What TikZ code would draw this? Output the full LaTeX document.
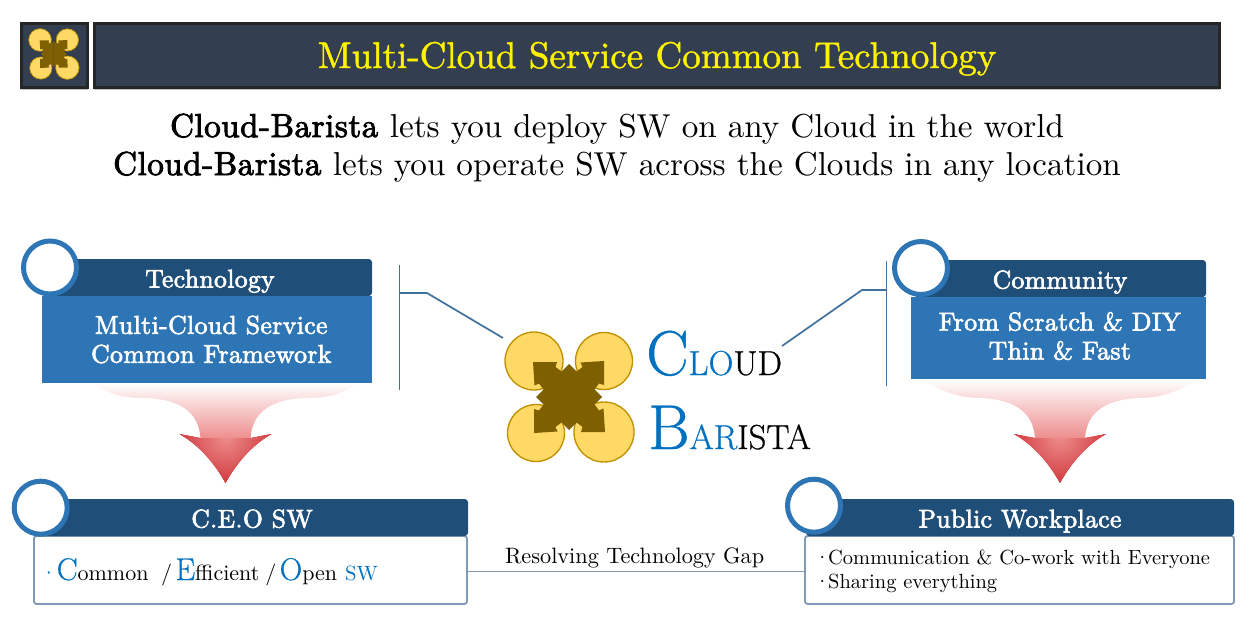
\documentclass[tikz,border=0pt]{standalone}
\usepackage{xcolor}
\usepackage{fontspec}
\usepackage{tikz}
\usetikzlibrary{positioning, shadows}

\setmainfont{lmroman10-regular}[Extension=.otf, BoldFont=lmroman10-regular, BoldFeatures={FakeBold=2.6, LetterSpace=1.5}]
\newfontfamily\titlefont{lmroman10-regular}[Extension=.otf, FakeBold=1.2]
\newfontfamily\namefont{lmroman17-regular}[Extension=.otf, FakeBold=0.7]

\definecolor{titlefill}{HTML}{333F50}
\definecolor{titleline}{HTML}{262626}
\definecolor{headblue}{HTML}{1F4E79}
\definecolor{bodyblue}{HTML}{2E75B6}
\definecolor{letterblue}{HTML}{0070C0}
\definecolor{boxline}{HTML}{7F98B6}
\definecolor{linkblue}{HTML}{41719C}
\definecolor{logofill}{HTML}{FFD966}
\definecolor{logoline}{HTML}{BF9000}
\definecolor{logocross}{HTML}{7F6000}
\definecolor{funnelmid}{HTML}{EE8E8E}
\definecolor{funnelred}{HTML}{C51A1F}

\newcommand{\sz}[1]{\fontsize{#1}{#1}\selectfont}
\newcommand{\bigletter}[1]{\textcolor{letterblue}{\namefont\sz{23.5}#1}}

% Logo mark: centre x, centre y, scale, circle line width
\newcommand{\logomark}[4]{
    \begin{scope}[shift={(#1,#2)}, scale=#3]
        \draw [fill=logofill, draw=logoline, line width=#4] (-35,-36) circle (29);
        \draw [fill=logofill, draw=logoline, line width=#4] (35,-36) circle (28.5);
        \draw [fill=logofill, draw=logoline, line width=#4] (-33,36) circle (28.5);
        \draw [fill=logofill, draw=logoline, line width=#4] (35,35) circle (30);
        \foreach \ang in {0,90,180,270} {
            \fill [logocross, rotate=\ang] (0,0) -- (0,-33) -- (7.5,-25.5) -- (13.5,-30) -- (11.5,-34.5)
                -- (35,-36) -- (35,-12) -- (30,-13.5) -- (25.5,-7.5) -- (33,0) -- cycle;
        }
    \end{scope}
}

% Funnel arrow: centre x, half width, top y
\newcommand{\funnelarrow}[3]{
    \begin{scope}[shift={(#1,0)}]
        \shade [top color=white, bottom color=funnelmid]
            (-#2,#3) .. controls (-#2+22,#3+14) and (-100,398) .. (-78,398)
            .. controls (-45,400) and (-27,412) .. (-25,438) -- (25,438)
            .. controls (27,412) and (45,400) .. (78,398)
            .. controls (100,398) and (#2-22,#3+14) .. (#2,#3) -- cycle;
        \begin{scope}
            \clip (-46,434) -- (-25,438) -- (25,438) -- (46,434)
                .. controls (25,446) and (10,465) .. (0,483)
                .. controls (-10,465) and (-25,446) .. (-46,434) -- cycle;
            \fill [funnelred] (-50,430) rectangle (50,485);
            \shade [inner color=funnelmid, outer color=funnelred] (0,436) circle (66);
        \end{scope}
    \end{scope}
}

\begin{document}
\begin{tikzpicture}[
    x=0.75pt, y=-0.75pt,
    titlebox/.style={draw=titleline, fill=titlefill, line width=2.25pt, inner sep=0pt,
        drop shadow={shadow xshift=0pt, shadow yshift=-2pt, opacity=0.25, fill=black}},
    headbar/.style={fill=headblue, text=white, rounded corners=2.5pt, inner sep=0pt, minimum height=27.75pt,
        text height=15pt, text depth=0pt, font=\sz{19.2}\bfseries},
    bodybox/.style={fill=bodyblue, inner sep=0pt},
    bodytext/.style={text=white, inner sep=0pt, align=center, font=\fontsize{19.3}{21.75}\selectfont\bfseries},
    whitebox/.style={draw=boxline, fill=white, line width=1.4pt, rounded corners=2pt, inner sep=0pt},
    ringnode/.style={circle, draw=bodyblue, fill=white, line width=3.75pt, minimum size=39.75pt, inner sep=0pt},
    linkline/.style={draw=linkblue, line width=1.3pt},
    gapline/.style={draw=boxline, line width=0.8pt}
]
    \useasboundingbox (0,0) rectangle (1253,628);

    % Title
    \node (logobox) [titlebox, minimum width=50pt, minimum height=48pt] at (54.5,55) {};
    \node (titlebar) [titlebox, minimum width=844pt, minimum height=48pt, text=yellow, text height=19.5pt, text depth=0pt, font=\sz{27.8}\titlefont] at (657,55) {Multi-Cloud Service Common Technology};
    \logomark{53.7}{54}{0.39}{0.5pt}

    \node (lineone) [anchor=base, inner sep=0pt, font=\sz{24.85}] at (617,137) {\textbf{Cloud-Barista} lets you deploy SW on any Cloud in the world};
    \node (linetwo) [anchor=base, inner sep=0pt, font=\sz{24.85}] at (617,175) {\textbf{Cloud-Barista} lets you operate SW across the Clouds in any location};

    % Arrows
    \funnelarrow{225.5}{133}{383}
    \funnelarrow{1060}{138}{379}

    % Technology
    \node (techbar) [headbar, minimum width=243pt] at (210,277.5) {Technology};
    \node (techbody) [bodybox, minimum width=247.5pt, minimum height=65.25pt, below left=-0.4pt and 0pt of techbar.south east] {};
    \node (techtext) [bodytext] at ([xshift=3.2pt]techbody.center) {Multi-Cloud Service\\Common Framework};
    \node (techring) [ringnode] at (50,267.5) {};

    % Community
    \node (commbar) [headbar, minimum width=219pt] at (1060,278.5) {Community};
    \node (commbody) [bodybox, minimum width=221.25pt, minimum height=61.5pt, below left=-0.4pt and 0pt of commbar.south east] {};
    \node (commtext) [bodytext] at ([xshift=1pt, yshift=1.5pt]commbody.center) {From Scratch \& DIY\\Thin \& Fast};
    \node (commring) [ringnode] at (921,268) {};

    % C.E.O SW
    \node (ceobox) [whitebox, minimum width=324.75pt, minimum height=51pt] at (250.5,570) {};
    \node (ceobar) [headbar, minimum width=324pt] at (252,517.5) {C.E.O SW};
    \node (ceoring) [ringnode] at (40.7,507.7) {};
    \node (ceotext) [anchor=base west, inner sep=0pt, font=\sz{16.5}] at (40,580) {\textcolor{letterblue}{·}\hspace{-0.5pt}\bigletter{C}ommon\hspace{9.5pt}/\hspace{2.5pt}\bigletter{E}f{}f{}icient\hspace{4.5pt}/\hspace{2.5pt}\bigletter{O}pen\hspace{6pt}\textcolor{letterblue}{\sz{15.5}SW}};

    % Public Workplace
    \node (pubbox) [whitebox, minimum width=321.75pt, minimum height=51pt] at (1019.5,570) {};
    \node (pubbar) [headbar, minimum width=321pt] at (1020,517.5) {Public Workplace};
    \node (pubring) [ringnode] at (814,505.7) {};
    \node (publine) [anchor=base west, inner sep=0pt, font=\sz{15.35}] at (814,564) {·\hspace{-1.5pt}Communication \& Co-work with Everyone};
    \node (pubshare) [anchor=base west, inner sep=0pt, font=\sz{15.35}] at (814,588) {·\hspace{-1.5pt}Sharing everything};

    % Logo and name
    \logomark{569}{397}{1}{1pt}
    \node (cloudname) [anchor=base west, inner sep=0pt, font=\namefont\sz{26}] at (646,375) {\textcolor{letterblue}{\sz{47.5}C\sz{26}LO}UD};
    \node (baristaname) [anchor=base west, inner sep=0pt, font=\namefont\sz{26}] at (648,449) {\textcolor{letterblue}{\sz{47.5}B\sz{26}AR}ISTA};

    % Flows
    \coordinate (techtop) at (399.5,265);
    \coordinate (techbot) at (399.5,390);
    \coordinate (techjoin) at (399.5,293);
    \coordinate (techbend) at (427,293);
    \coordinate (logoleft) at (503,338);
    \coordinate (commtop) at (886.5,261);
    \coordinate (commbot) at (886.5,386);
    \coordinate (commjoin) at (886.5,290);
    \coordinate (commbend) at (862,290);
    \coordinate (logoright) at (782,346);
    \draw [linkline] (techtop) -- (techbot);
    \draw [linkline] (techjoin) -- (techbend) -- (logoleft);
    \draw [linkline] (commtop) -- (commbot);
    \draw [linkline] (commjoin) -- (commbend) -- (logoright);
    \draw [gapline] ([yshift=-1pt]ceobox.east) -- ([yshift=-1pt]pubbox.west) node[midway, above, font=\sz{16.7}, yshift=-1pt, xshift=-1pt] {Resolving Technology Gap};

\end{tikzpicture}
\end{document}
